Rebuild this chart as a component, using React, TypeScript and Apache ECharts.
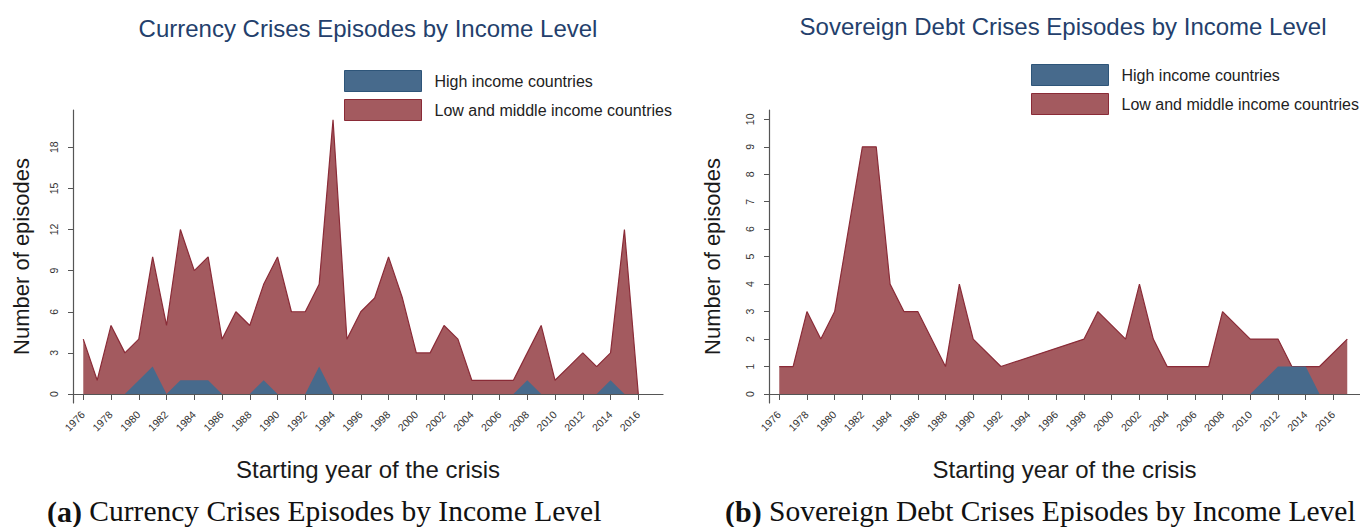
import React, { useEffect, useRef } from "react";
import * as echarts from "echarts";

// ---------- Data ----------
const currencyYears = [
  1976, 1977, 1978, 1979, 1980, 1981, 1982, 1983, 1984, 1985, 1986, 1987, 1988, 1989,
  1990, 1991, 1992, 1993, 1994, 1995, 1996, 1997, 1998, 1999, 2000, 2001, 2002, 2003,
  2004, 2005, 2006, 2007, 2008, 2009, 2010, 2011, 2012, 2013, 2014, 2015, 2016,
];
const currencyLowMid = [
  4, 1, 5, 3, 4, 10, 5, 12, 9, 10, 4, 6, 5, 8,
  10, 6, 6, 8, 20, 4, 6, 7, 10, 7, 3, 3, 5, 4,
  1, 1, 1, 1, 3, 5, 1, 2, 3, 2, 3, 12, 0,
];
const currencyHigh = [
  0, 0, 0, 0, 1, 2, 0, 1, 1, 1, 0, 0, 0, 1,
  0, 0, 0, 2, 0, 0, 0, 0, 0, 0, 0, 0, 0, 0,
  0, 0, 0, 0, 1, 0, 0, 0, 0, 0, 1, 0, 0,
];

const debtYears = [
  1976, 1977, 1978, 1979, 1980, 1981, 1982, 1983, 1984, 1985, 1986, 1987, 1988, 1989,
  1990, 1991, 1992, 1993, 1994, 1995, 1996, 1997, 1998, 1999, 2000, 2001, 2002, 2003,
  2004, 2005, 2006, 2007, 2008, 2009, 2010, 2011, 2012, 2013, 2014, 2015, 2016, 2017,
];
const debtLowMid = [
  1, 1, 3, 2, 3, 6, 9, 9, 4, 3, 3, 2, 1, 4,
  2, null, 1, null, null, null, null, null, 2, 3, null, 2, 4, 2,
  1, 1, 1, 1, 3, null, 2, 2, 2, 1, 1, 1, null, 2,
];
const debtHigh = [
  0, 0, 0, 0, 0, 0, 0, 0, 0, 0, 0, 0, 0, 0,
  0, 0, 0, 0, 0, 0, 0, 0, 0, 0, 0, 0, 0, 0,
  0, 0, 0, 0, 0, 0, 0, null, 1, 1, 1, 0, 0, 0,
];

const yearTicks = [
  1976, 1978, 1980, 1982, 1984, 1986, 1988, 1990, 1992, 1994, 1996, 1998, 2000,
  2002, 2004, 2006, 2008, 2010, 2012, 2014, 2016,
];
const currencyYTicks = [0, 3, 6, 9, 12, 15, 18];
const debtYTicks = [0, 1, 2, 3, 4, 5, 6, 7, 8, 9, 10];

const HIGH = "High income countries";
const LOW = "Low and middle income countries";
const titleLeft = "Currency Crises Episodes by Income Level";
const titleRight = "Sovereign Debt Crises Episodes by Income Level";
const xName = "Starting year of the crisis";
const yName = "Number of episodes";
const captionLeftTag = "(a)";
const captionLeft = "Currency Crises Episodes by Income Level";
const captionRightTag = "(b)";
const captionRight = "Sovereign Debt Crises Episodes by Income Level";

// ---------- Styles ----------
const SANS = "'Liberation Sans', Arial, Helvetica, sans-serif";
const SERIF = "'Liberation Serif', 'Times New Roman', serif";
const RED = "#a35a5f";
const RED_LINE = "#8a2b37";
const BLUE = "#476a8c";
const BLUE_LINE = "#2e5579";
const AXIS = "#555555";
const TITLE = "#243f6c";

const pairs = (xs: number[], ys: (number | null)[]) => xs.map((x, i) => [x, ys[i]]);

function xAxisCfg(gridIndex: number, min: number, max: number) {
  return {
    type: "value",
    gridIndex,
    min,
    max,
    name: xName,
    nameLocation: "middle",
    nameGap: 54,
    nameTextStyle: { fontFamily: SANS, fontSize: 24, color: "#1a1a1a" },
    axisLine: { show: true, lineStyle: { color: AXIS, width: 1.2 } },
    axisTick: { show: true, length: 6, customValues: yearTicks, lineStyle: { color: AXIS } },
    axisLabel: {
      customValues: yearTicks,
      rotate: 45,
      margin: 10,
      fontFamily: SANS,
      fontSize: 10.5,
      color: "#333",
      formatter: (v: number) => String(v),
    },
    splitLine: { show: false },
  };
}

function yAxisCfg(gridIndex: number, min: number, max: number, ticks: number[], nameGap: number) {
  return {
    type: "value",
    gridIndex,
    min,
    max,
    name: yName,
    nameLocation: "middle",
    nameGap,
    nameTextStyle: { fontFamily: SANS, fontSize: 22, color: "#1a1a1a" },
    axisLine: { show: true, lineStyle: { color: AXIS, width: 1.2 } },
    axisTick: { show: true, length: 5, customValues: ticks, lineStyle: { color: AXIS } },
    axisLabel: {
      customValues: ticks,
      rotate: 90,
      margin: 14,
      fontFamily: SANS,
      fontSize: 10.5,
      color: "#333",
      formatter: (v: number) => String(v),
    },
    splitLine: { show: false },
  };
}

function areaSeries(name: string, idx: number, data: any[], fill: string, line: string, lw: number, z: number) {
  return {
    type: "line",
    name,
    xAxisIndex: idx,
    yAxisIndex: idx,
    data,
    symbol: "none",
    connectNulls: true,
    z,
    itemStyle: { color: fill },
    lineStyle: { color: line, width: lw },
    areaStyle: { color: fill, opacity: 1, origin: 0 },
  };
}

function legendCfg(left: number, top: number) {
  return {
    orient: "vertical",
    left,
    top,
    padding: 0,
    itemWidth: 77,
    itemHeight: 21,
    itemGap: 7,
    icon: "rect",
    selectedMode: false,
    textStyle: { fontFamily: SANS, fontSize: 16, color: "#222", padding: [0, 0, 0, 8] },
    data: [
      { name: HIGH, itemStyle: { color: BLUE, borderColor: BLUE_LINE, borderWidth: 1 } },
      { name: LOW, itemStyle: { color: RED, borderColor: RED_LINE, borderWidth: 1 } },
    ],
  };
}

function captionCfg(tag: string, text: string, x: number) {
  return {
    type: "text",
    style: {
      text: `{b|${tag}}{n| ${text}}`,
      x,
      y: 511,
      textVerticalAlign: "middle",
      rich: {
        b: { fontFamily: SERIF, fontSize: 30, fontWeight: "bold", fill: "#111" },
        n: { fontFamily: SERIF, fontSize: 29.5, fill: "#111" },
      },
    },
  };
}

function titleCfg(text: string, x: number, y: number) {
  return {
    type: "text",
    style: {
      text,
      x,
      y,
      textAlign: "center",
      textVerticalAlign: "middle",
      font: `24px ${SANS}`,
      fill: TITLE,
    },
  };
}

const option: any = {
  animation: false,
  backgroundColor: "#ffffff",
  grid: [
    { left: 73, top: 110, width: 590, height: 293 },
    { left: 769, top: 110, width: 591, height: 293 },
  ],
  xAxis: [xAxisCfg(0, 1975.26, 2017.78), xAxisCfg(1, 1975.26, 2017.92)],
  yAxis: [
    yAxisCfg(0, -0.657, 20.72, currencyYTicks, 41),
    yAxisCfg(1, -0.328, 10.34, debtYTicks, 46),
  ],
  legend: [legendCfg(344, 70), legendCfg(1031, 64)],
  series: [
    areaSeries(LOW, 0, pairs(currencyYears, currencyLowMid), RED, RED_LINE, 1.2, 2),
    areaSeries(HIGH, 0, pairs(currencyYears, currencyHigh), BLUE, BLUE_LINE, 0, 3),
    areaSeries(LOW, 1, pairs(debtYears, debtLowMid), RED, RED_LINE, 1.2, 2),
    areaSeries(HIGH, 1, pairs(debtYears, debtHigh), BLUE, BLUE_LINE, 0, 3),
  ],
  graphic: [
    titleCfg(titleLeft, 368, 28),
    titleCfg(titleRight, 1063, 26),
    captionCfg(captionLeftTag, captionLeft, 47),
    captionCfg(captionRightTag, captionRight, 725),
  ],
};

export default function App() {
  const ref = useRef<HTMLDivElement>(null);
  useEffect(() => {
    if (!ref.current) return;
    const chart = echarts.init(ref.current, null, { renderer: "svg" });
    chart.setOption(option);
    return () => chart.dispose();
  }, []);
  return (
    <div
      ref={ref}
      style={{ position: "absolute", left: 0, top: 0, width: 1360, height: 527, background: "#fff" }}
    />
  );
}
